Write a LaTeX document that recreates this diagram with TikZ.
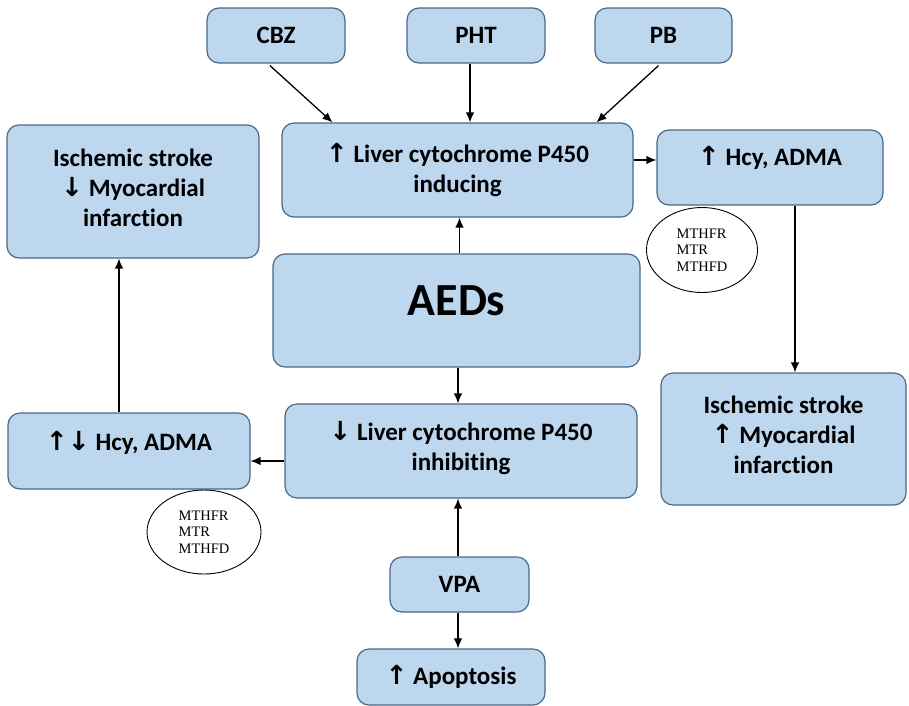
\documentclass[tikz,border=0pt]{standalone}
\usepackage{fontspec}
\setmainfont{Carlito}[Ligatures=NoCommon]
\newfontfamily\arrfont{DejaVu Sans}
\newfontfamily\timesfont{Liberation Serif}
\usetikzlibrary{arrows.meta,calc,shapes.geometric}
\newcommand{\UpA}{{\arrfont\scalebox{1.05}{↑}}}
\newcommand{\DnA}{{\arrfont\scalebox{1.05}{↓}}}
\definecolor{boxfill}{RGB}{189,215,238}
\definecolor{boxline}{RGB}{74,104,136}
\tikzset{
  bx/.style={draw=boxline, fill=boxfill, line width=1.2pt, rounded corners=12pt,
    align=center, inner sep=0pt, font=\fontsize{25}{30}\selectfont\bfseries},
  tx/.style={align=center, inner sep=0pt, font=\fontsize{25}{30}\selectfont\bfseries},
  ell/.style={draw=black, line width=0.9pt, ellipse, inner sep=0pt,
    font=\timesfont\fontsize{14.5}{16.7}\selectfont},
  arr/.style={line width=1.3pt, -{Latex[length=10pt,width=8.5pt]}}
}
\begin{document}
\begin{tikzpicture}[x=1pt,y=-1pt]
\useasboundingbox (0,0) rectangle (909,705);
\node[bx, minimum width=138pt, minimum height=55pt] (cbz) at (276,35.5) {CBZ};
\node[bx, minimum width=138pt, minimum height=55pt] (pht) at (476,35.5) {PHT};
\node[bx, minimum width=137pt, minimum height=55pt] (pb) at (663.5,35.5) {PB};
\node[bx, minimum width=351pt, minimum height=94pt] (ind) at (457.5,170) {\UpA{} Liver cytochrome P450\\inducing};
\node[bx, minimum width=226pt, minimum height=75pt] (hcyR) at (770,167.5) {};
\node[tx] (hcyRt) at ([yshift=9.5pt]hcyR.center) {\UpA{} Hcy, ADMA};
\node[bx, minimum width=252pt, minimum height=133pt] (isL) at (133,191.5) {};
\node[tx] (isLt) at ([yshift=3.5pt]isL.center) {Ischemic stroke\\\DnA{} Myocardial\\infarction};
\node[bx, minimum width=367pt, minimum height=113pt] (aeds) at (456.5,310.5) {};
\node[tx, font=\fontsize{46}{52}\selectfont\bfseries] (aedst) at ([yshift=10pt]aeds.center) {AEDs};
\node[bx, minimum width=352pt, minimum height=94pt] (inh) at (461,451) {};
\node[tx] (inht) at ([yshift=3pt]inh.center) {\DnA{} Liver cytochrome P450\\inhibiting};
\node[bx, minimum width=242pt, minimum height=76pt] (hcyL) at (129,451) {};
\node[tx] (hcyLt) at ([yshift=8pt]hcyL.center) {\UpA\DnA{} Hcy, ADMA};
\node[bx, minimum width=245pt, minimum height=132pt] (isR) at (783.5,439) {};
\node[tx] (isRt) at ([yshift=4pt]isR.center) {Ischemic stroke\\\UpA{} Myocardial\\infarction};
\node[bx, minimum width=139pt, minimum height=55pt] (vpa) at (459.5,584.5) {VPA};
\node[bx, minimum width=188pt, minimum height=56pt] (apo) at (451,677) {\UpA{} Apoptosis};
\node[ell, minimum width=111pt, minimum height=85pt, align=left] (ellR) at (702,250) {MTHFR\\MTR\\MTHFD};
\node[ell, minimum width=114pt, minimum height=84pt, align=left] (ellL) at (204,532) {MTHFR\\MTR\\MTHFD};
% connectors
\draw[arr] ([xshift=-6pt,yshift=-2pt]cbz.south) -- ([xshift=-125pt]ind.north);
\draw[arr] ([xshift=-6pt]pht.south) -- ([xshift=-6pt]pht.south |- ind.north);
\draw[arr] ([xshift=-5pt,yshift=-2pt]pb.south) -- ([xshift=139pt]ind.north);
\draw[arr] ([yshift=10pt]ind.east) -- ([yshift=10pt]ind.east -| hcyR.west);
\draw[arr] ([xshift=3pt]aeds.north) -- ([xshift=3pt]aeds.north |- ind.south);
\draw[arr] ([xshift=1.5pt]aeds.south) -- ([xshift=1.5pt]aeds.south |- inh.north);
\draw[arr] ([xshift=-1.5pt]vpa.north) -- ([xshift=-1.5pt]vpa.north |- inh.south);
\draw[arr] ([xshift=-1.5pt]vpa.south) -- ([xshift=-1.5pt]vpa.south |- apo.north);
\draw[arr] ([yshift=-10pt]inh.west) -- ([yshift=-10pt]inh.west -| hcyL.east);
\draw[arr] ([xshift=-10pt]hcyL.north) -- ([xshift=-10pt]hcyL.north |- isL.south);
\draw[arr] ([xshift=25pt]hcyR.south) -- ([xshift=25pt]hcyR.south |- isR.north);
\end{tikzpicture}
\end{document}
